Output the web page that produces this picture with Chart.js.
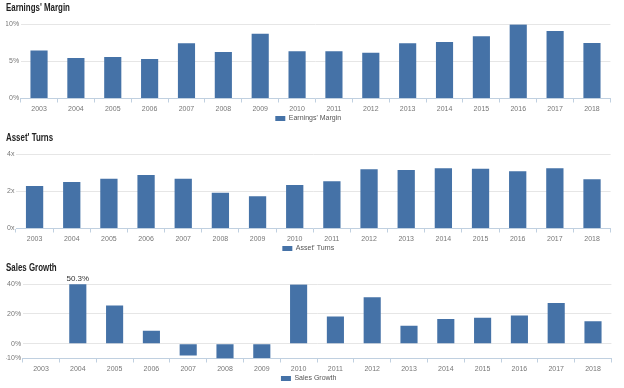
<!DOCTYPE html>
<html><head><meta charset="utf-8">
<script src="https://cdn.jsdelivr.net/npm/chart.js@4.4.0/dist/chart.umd.min.js"></script>
<style>
html,body{margin:0;padding:0;background:#fff;overflow:hidden;width:624px;height:388px;position:relative;}
canvas{position:absolute;left:0;}
</style></head><body>
<canvas id="c1" width="624" height="132" style="top:0px"></canvas>
<canvas id="c2" width="624" height="132" style="top:130px"></canvas>
<canvas id="c3" width="624" height="132" style="top:260px"></canvas>
<script>
const years = ['2003','2004','2005','2006','2007','2008','2009','2010','2011','2012','2013','2014','2015','2016','2017','2018'];
const earningsMargin = [6.45, 5.45, 5.58, 5.3, 7.43, 6.26, 8.7, 6.35, 6.35, 6.17, 7.43, 7.6, 8.38, 9.96, 9.1, 7.47];
const assetTurns = [2.29, 2.5, 2.68, 2.88, 2.68, 1.93, 1.73, 2.34, 2.54, 3.19, 3.15, 3.24, 3.22, 3.08, 3.24, 2.65];
const salesGrowth = [null, 50.3, 25.7, 8.7, -8, -10, -9.6, 39.8, 18.3, 31.3, 12, 16.6, 17.4, 19, 27.3, 15];
const marginTicks = [0, 5, 10];
const turnsTicks = [0, 2, 4];
const growthTicks = [-10, 0, 20, 40];

const BAR = '#4572A7';
const AXIS = '#C0D0E0';
const GRID = '#e6e6e6';
const TICKFONT = {family: '"Liberation Sans", Arial, sans-serif', size: 7};

// Panel title drawn as condensed bold text
const panelTitle = {
  id: 'panelTitle',
  afterDraw(chart, args, opts) {
    const ctx = chart.ctx;
    ctx.save();
    ctx.font = 'bold 11px "Liberation Sans", Arial, sans-serif';
    ctx.fillStyle = '#222';
    ctx.textAlign = 'left';
    ctx.textBaseline = 'middle';
    ctx.translate(6, 8);
    ctx.scale(0.72, 1);
    ctx.fillText(opts.text, 0, 0);
    ctx.restore();
  }
};

const overflowLabel = {
  id: 'overflowLabel',
  afterDatasetsDraw(chart) {
    const meta = chart.getDatasetMeta(0);
    const ys = chart.scales.y;
    const ctx = chart.ctx;
    chart.data.datasets[0].data.forEach((v, i) => {
      if (v !== null && v > ys.max) {
        const el = meta.data[i];
        ctx.save();
        ctx.font = '8px "Liberation Sans", Arial, sans-serif';
        ctx.fillStyle = '#333';
        ctx.textAlign = 'center';
        ctx.textBaseline = 'middle';
        ctx.fillText(v.toFixed(1) + '%', el.x, chart.chartArea.top - 5);
        ctx.restore();
      }
    });
  }
};

function makeChart(id, title, label, data, ticks, suffix, yWidth, padRight, plugins) {
  return new Chart(document.getElementById(id), {
    type: 'bar',
    data: {
      labels: years,
      datasets: [{label: label, data: data, backgroundColor: BAR, borderWidth: 0,
        barPercentage: 0.465, categoryPercentage: 1}]
    },
    plugins: [panelTitle].concat(plugins || []),
    options: {
      responsive: false,
      animation: false,
      layout: {padding: {left: 6, right: padRight, top: 24.2, bottom: 0}},
      plugins: {
        panelTitle: {text: title},
        title: {display: false},
        legend: {display: true, position: 'bottom',
          labels: {boxWidth: 10, boxHeight: 5, padding: 2, color: '#555', font: TICKFONT}},
        tooltip: {enabled: false}
      },
      scales: {
        x: {
          offset: true,
          grid: {offset: true, drawOnChartArea: false, drawTicks: true, tickLength: 4, color: AXIS},
          border: {display: true, color: AXIS},
          ticks: {color: '#777', font: TICKFONT, padding: 2, maxRotation: 0, autoSkip: false},
          afterFit: s => { s.height = 14.5; }
        },
        y: {
          min: ticks[0], max: ticks[ticks.length - 1],
          afterBuildTicks: s => { s.ticks = ticks.map(v => ({value: v})); },
          grid: {color: GRID, drawTicks: false},
          border: {display: false},
          ticks: {color: '#777', font: TICKFONT, padding: 1.5, callback: v => v + suffix},
          afterFit: s => { s.width = yWidth; }
        }
      }
    }
  });
}

makeChart('c1', "Earnings' Margin", "Earnings' Margin", earningsMargin, marginTicks, '%', 14.6, 13.6);
makeChart('c2', "Asset' Turns", "Asset' Turns", assetTurns, turnsTicks, 'x', 10, 13.4);
makeChart('c3', 'Sales Growth', 'Sales Growth', salesGrowth, growthTicks, '%', 16.6, 12.6, [overflowLabel]);
</script>
</body></html>
